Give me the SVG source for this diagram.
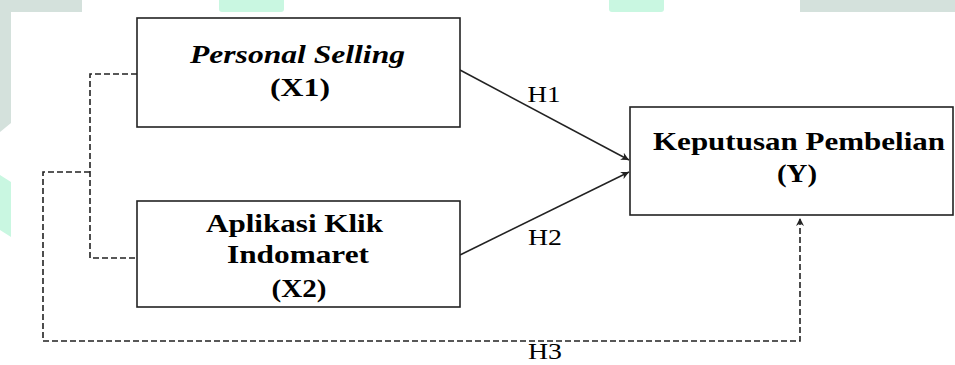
<svg xmlns="http://www.w3.org/2000/svg" width="955" height="365" viewBox="0 0 955 365">
<style>
.box{fill:#fff;stroke:#222;stroke-width:1.6}
.lbl{font-family:"Liberation Serif","Times New Roman",serif;font-weight:bold;font-size:26px;fill:#000;text-anchor:middle}
.h{font-family:"Liberation Serif","Times New Roman",serif;font-size:23px;fill:#000;text-anchor:middle}
.solid{stroke:#222;stroke-width:1.5;fill:none}
.dash{stroke:#222;stroke-width:1.6;fill:none;stroke-dasharray:6 3}
</style>
<defs>
<marker id="ah" viewBox="0 0 10 10" refX="10" refY="5" markerWidth="8" markerHeight="8" markerUnits="userSpaceOnUse" orient="auto">
<path d="M0,0 L10,5 L0,10 L3,5 z" fill="#222"/>
</marker>
</defs>
<rect width="955" height="365" fill="#fff"/>
<g id="background">
<path d="M0,0 H82 V12 H11 V123 L0,132 Z" fill="#d4e1dc"/>
<path d="M0,175 L11,182 V237 L0,230 Z" fill="#c9f7e1"/>
<path d="M219,0 H284 V9 Q284,12 281,12 H222 Q219,12 219,9 Z" fill="#c9f7e1"/>
<path d="M609,0 H664 V9 Q664,12 661,12 H612 Q609,12 609,9 Z" fill="#c9f7e1"/>
<path d="M800,0 H955 V12 H800 Z" fill="#d4e1dc"/>
</g>
<g id="connectors">
<path class="solid" d="M460,70 L629,160" marker-end="url(#ah)"/>
<path class="solid" d="M460,255 L629,172" marker-end="url(#ah)"/>
<path class="dash" d="M137,74 H90 V258 H137"/>
<path class="dash" d="M90,172 H43 V341 H800 V218" marker-end="url(#ah)"/>
<text class="h" x="544" y="102" textLength="33" lengthAdjust="spacingAndGlyphs">H1</text>
<text class="h" x="545" y="245" textLength="34" lengthAdjust="spacingAndGlyphs">H2</text>
<text class="h" x="545" y="359" font-size="21" textLength="34" lengthAdjust="spacingAndGlyphs">H3</text>
</g>
<g id="x1">
<rect class="box" x="137" y="18" width="323" height="109"/>
<text class="lbl" x="297.5" y="63" font-style="italic" textLength="215" lengthAdjust="spacingAndGlyphs">Personal Selling</text>
<text class="lbl" x="300" y="96" textLength="60" lengthAdjust="spacingAndGlyphs">(X1)</text>
</g>
<g id="x2">
<rect class="box" x="137" y="201" width="323" height="106"/>
<text class="lbl" x="294.5" y="232" textLength="177" lengthAdjust="spacingAndGlyphs">Aplikasi Klik</text>
<text class="lbl" x="298" y="263" textLength="142" lengthAdjust="spacingAndGlyphs">Indomaret</text>
<text class="lbl" x="299" y="297" textLength="55" lengthAdjust="spacingAndGlyphs">(X2)</text>
</g>
<g id="y">
<rect class="box" x="630" y="107" width="323" height="108"/>
<text class="lbl" x="799" y="150" textLength="292" lengthAdjust="spacingAndGlyphs">Keputusan Pembelian</text>
<text class="lbl" x="797" y="182" textLength="40" lengthAdjust="spacingAndGlyphs">(Y)</text>
</g>
</svg>
